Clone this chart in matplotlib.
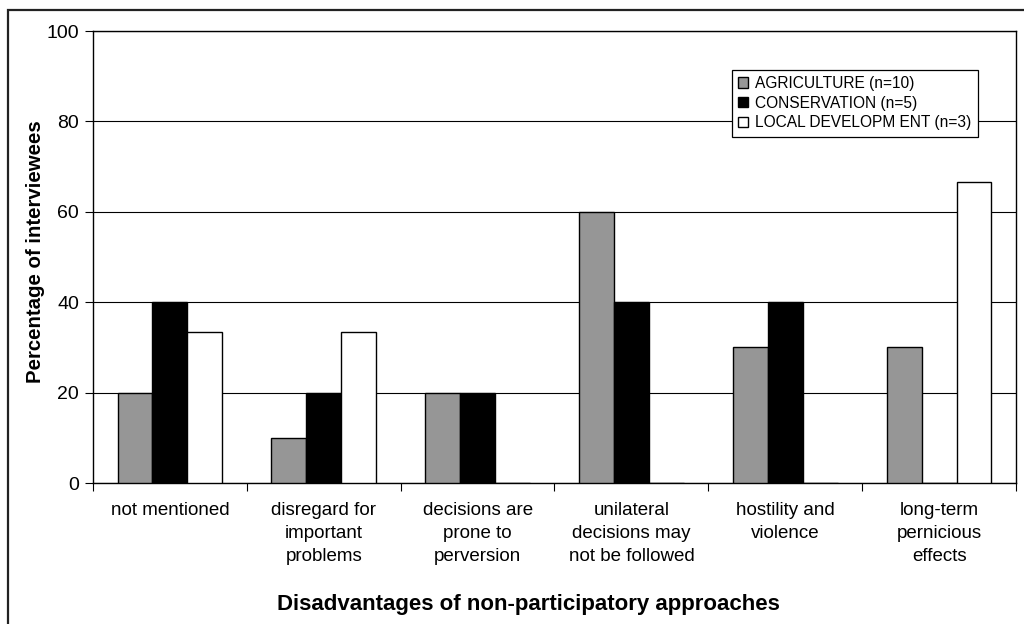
import numpy as np
import matplotlib
matplotlib.use("Agg")
import matplotlib.pyplot as plt
from matplotlib.patches import Rectangle

plt.rcParams['font.family'] = ['Liberation Sans', 'DejaVu Sans']

categories = [
    "not mentioned",
    "disregard for\nimportant\nproblems",
    "decisions are\nprone to\nperversion",
    "unilateral\ndecisions may\nnot be followed",
    "hostility and\nviolence",
    "long-term\npernicious\neffects",
]
agriculture = [20, 10, 20, 60, 30, 30]
conservation = [40, 20, 20, 40, 40, 0]
local_development = [33.3, 33.3, 0, 0, 0, 66.7]
series_labels = ["AGRICULTURE (n=10)", "CONSERVATION (n=5)", "LOCAL DEVELOPM ENT (n=3)"]
y_ticks = [0, 20, 40, 60, 80, 100]

fig = plt.figure(figsize=(10.24, 6.24), dpi=100)
ax = fig.add_axes([93 / 1024, 1 - 483 / 624, 923 / 1024, 452 / 624])

x = np.arange(len(categories))
w = 0.227
colors = ["#969696", "#000000", "#ffffff"]
for i, (vals, c, lab) in enumerate(zip([agriculture, conservation, local_development], colors, series_labels)):
    ax.bar(x + (i - 1) * w, vals, width=w, color=c, edgecolor="black", linewidth=1.0,
           label=lab, zorder=3)

ax.set_xlim(-0.5, len(categories) - 0.5)
ax.set_ylim(0, 100)
ax.set_yticks(y_ticks)
ax.yaxis.grid(True, color="black", linewidth=0.8, zorder=0)
ax.tick_params(axis="y", labelsize=14, length=6, width=0.8, direction="out", pad=4)

# category boundaries carry the tick marks, centres carry the labels
ax.set_xticks(np.arange(len(categories) + 1) - 0.5)
ax.set_xticklabels([])
ax.set_xticks(x, minor=True)
ax.set_xticklabels(categories, minor=True, fontsize=13.5, linespacing=1.45)
ax.tick_params(axis="x", which="major", length=6, width=0.8, direction="out")
ax.tick_params(axis="x", which="minor", length=0, pad=14)

for s in ax.spines.values():
    s.set_linewidth(1.0)
    s.set_color("black")

ax.set_ylabel("Percentage of interviewees", fontsize=14.7, fontweight="bold")
ax.yaxis.set_label_coords(-0.052, 0.511)
ax.set_xlabel("Disadvantages of non-participatory approaches", fontsize=16,
              fontweight="bold")
ax.xaxis.set_label_coords(0.472, -0.245)

leg = ax.legend(loc="upper left", bbox_to_anchor=(0.692, 0.914), fontsize=11.2,
                frameon=True, fancybox=False, edgecolor="black", framealpha=1,
                handlelength=0.65, handleheight=0.65, handletextpad=0.45,
                labelspacing=0.3, borderpad=0.4, borderaxespad=0)
leg.get_frame().set_linewidth(0.9)
leg.set_zorder(5)

# outer chart-area border
fig.patches.append(Rectangle((8 / 1024, -0.05), 1.2, 1 - 10 / 624 + 0.05,
                             transform=fig.transFigure, fill=False,
                             edgecolor="#222222", linewidth=1.6))

fig.savefig("out.png", dpi=100)
